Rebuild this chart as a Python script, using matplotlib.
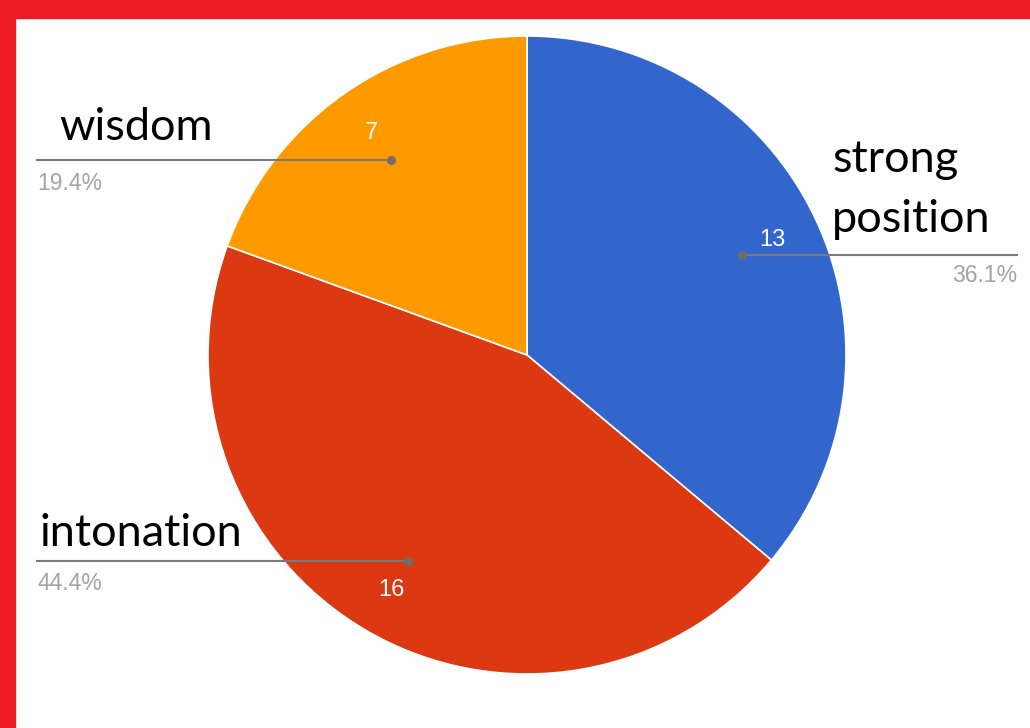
import numpy as np
import matplotlib
matplotlib.use("Agg")
import matplotlib.pyplot as plt
from matplotlib.patches import Rectangle

# --- data ---
labels = ["strong position", "intonation", "wisdom"]
values = [13, 16, 7]
colors = ["#3366CC", "#DC3912", "#FF9900"]

W, H = 1030, 728
CX, CY, R = 527, 355, 319  # pie centre / radius in pixels (y from top)


def py(y):
    # pixel y (from top) -> data y
    return H - y


fig = plt.figure(figsize=(W / 100, H / 100), dpi=100)
ax = fig.add_axes([0, 0, 1, 1])

wedges, _ = ax.pie(values, colors=colors, startangle=90, counterclock=False,
                   center=(CX, py(CY)), radius=R,
                   wedgeprops=dict(edgecolor="white", linewidth=1.2))
ax.set_xlim(0, W)
ax.set_ylim(0, H)
ax.set_aspect("equal")
ax.axis("off")

total = sum(values)
label_font = ["Lato", "DejaVu Sans"]
num_font = ["Liberation Sans", "DejaVu Sans"]

# label layout: x of name, y-centres of its lines, percent position, leader end
layout = {
    "wisdom": dict(x=59, ys=[127], pct=(37, 183, "left"), line_to=37),
    "strong position": dict(x=832, ys=[160, 220], pct=(1017, 276, "right"), line_to=1017),
    "intonation": dict(x=39, ys=[533], pct=(37, 583, "left"), line_to=37),
}

for w, lab, v in zip(wedges, labels, values):
    mid = np.deg2rad((w.theta1 + w.theta2) / 2)
    # dot + leader line
    dx, dy = CX + 0.745 * R * np.cos(mid), py(CY) + 0.745 * R * np.sin(mid)
    lay = layout[lab]
    ax.plot([dx, lay["line_to"]], [dy, dy], color="#7a7a7a", lw=1.5, zorder=3)
    ax.plot(dx, dy, "o", color="#6e6e6e", ms=5.5, zorder=4)
    # value inside slice
    vx, vy = CX + 0.85 * R * np.cos(mid), py(CY) + 0.85 * R * np.sin(mid)
    ax.text(vx, vy, str(v), color="white", fontsize=17, family=num_font,
            ha="center", va="center", zorder=5)
    # category name
    for line, yc in zip(lab.split(" "), lay["ys"]):
        ax.text(lay["x"], py(yc), line, fontsize=32.5, family=label_font,
                color="black", ha="left", va="center")
    px, pyc, ha = lay["pct"]
    ax.text(px, py(pyc), f"{v / total * 100:.1f}%", fontsize=16.5,
            family=num_font, color="#a3a3a3", ha=ha, va="center")

# red frame (top and left)
fig.patches.append(Rectangle((0, 1 - 18 / H), 1, 18 / H, transform=fig.transFigure,
                             color="#ED1C24", zorder=10))
fig.patches.append(Rectangle((0, 0), 15 / W, 1, transform=fig.transFigure,
                             color="#ED1C24", zorder=10))

fig.savefig("out.png", dpi=100, facecolor="white")
